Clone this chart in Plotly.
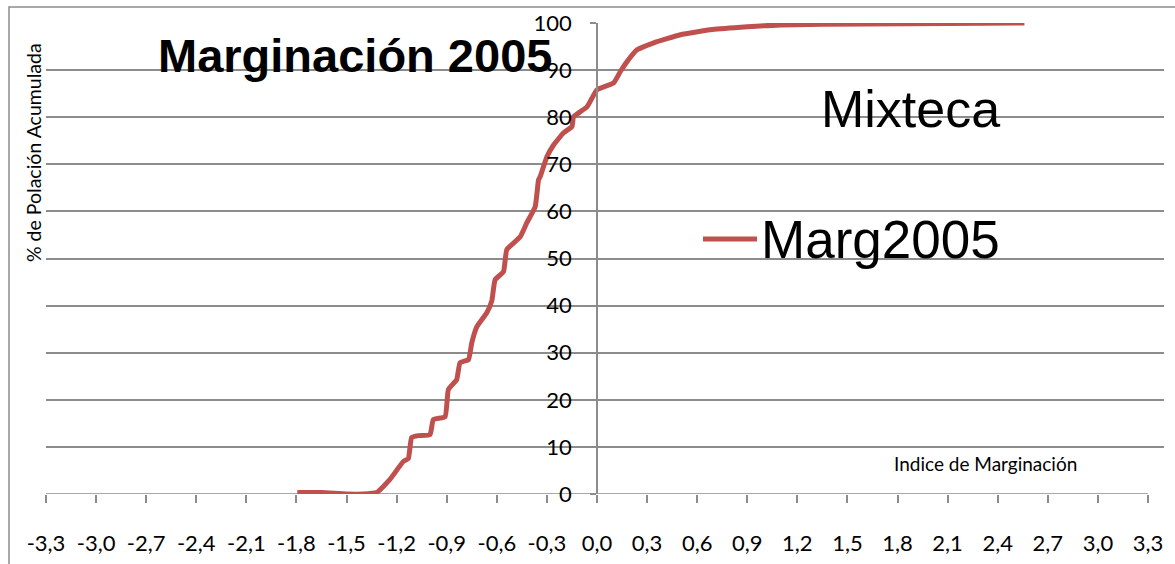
import plotly.graph_objects as go

# ---- data ----
indice = [-1.795, -1.65, -1.50, -1.40, -1.32, -1.24, -1.16, -1.13, -1.11, -1.07, -1.00, -0.98, -0.91,
          -0.89, -0.84, -0.82, -0.77, -0.75, -0.72, -0.66, -0.63, -0.61, -0.56, -0.54, -0.46, -0.42,
          -0.37, -0.35, -0.34, -0.30, -0.26, -0.20, -0.15, -0.14, -0.06, 0.00, 0.10, 0.14, 0.18,
          0.24, 0.34, 0.50, 0.69, 0.90, 1.10, 1.60, 2.10, 2.56]
pob_acum = [0.3, 0.3, 0.0, 0.0, 0.3, 3.1, 6.9, 7.5, 12.0, 12.4, 12.6, 15.8, 16.4,
            22.2, 24.3, 27.9, 28.5, 32.1, 35.5, 38.5, 41.0, 45.5, 47.2, 51.9, 54.6, 57.6,
            61.0, 66.7, 67.4, 71.6, 74.1, 76.7, 78.0, 80.1, 82.2, 85.8, 87.3, 89.7, 91.8,
            94.3, 95.8, 97.5, 98.6, 99.2, 99.6, 99.8, 99.9, 100.0]

x_tickvals = [-3.3, -3.0, -2.7, -2.4, -2.1, -1.8, -1.5, -1.2, -0.9, -0.6, -0.3, 0.0,
              0.3, 0.6, 0.9, 1.2, 1.5, 1.8, 2.1, 2.4, 2.7, 3.0, 3.3]
x_ticktext = ["-3,3", "-3,0", "-2,7", "-2,4", "-2,1", "-1,8", "-1,5", "-1,2", "-0,9", "-0,6", "-0,3", "0,0",
              "0,3", "0,6", "0,9", "1,2", "1,5", "1,8", "2,1", "2,4", "2,7", "3,0", "3,3"]
y_tickvals = [0, 10, 20, 30, 40, 50, 60, 70, 80, 90, 100]

series_name = "Marg2005"
RED = "#C0504D"
GRID = "#8c8c8c"

XMIN, XMAX = -3.3, 3.396
YMIN, YMAX = 0, 100

fig = go.Figure()
fig.add_trace(go.Scatter(x=indice, y=pob_acum, mode="lines", name=series_name,
                         line=dict(color=RED, width=5, shape="spline", smoothing=0.4),
                         showlegend=False))

W, H = 1175, 564
L, R, T, B = 46, 11, 23, 70
pw, ph = W - L - R, H - T - B


def px(xp):
    return (xp - L) / pw


def py(yp):
    return (H - B - yp) / ph


fig.update_layout(
    width=W, height=H,
    margin=dict(l=L, r=R, t=T, b=B, autoexpand=False),
    paper_bgcolor="white", plot_bgcolor="white",
    font=dict(family="Lato", color="black"),
    xaxis=dict(range=[XMIN, XMAX], tickvals=x_tickvals, ticktext=x_ticktext,
               showgrid=False, zeroline=False, showline=False, automargin=False,
               ticks="outside", ticklen=8, tickcolor=GRID, tickwidth=1.5,
               ticklabelstandoff=22, tickfont=dict(size=22, family="Lato")),
    yaxis=dict(range=[YMIN, YMAX], tickvals=y_tickvals, automargin=False,
               showgrid=True, gridcolor=GRID, gridwidth=1.5,
               zeroline=False, showline=True, linecolor=GRID, linewidth=1.5,
               anchor="free", position=(0 - XMIN) / (XMAX - XMIN),
               ticks="outside", ticklen=6, tickcolor=GRID, tickwidth=1.5,
               ticklabelstandoff=14, tickfont=dict(size=22, family="Lato")),
)

# x-axis line from -3.3 to 3.3
fig.add_shape(type="line", xref="x", yref="y", x0=x_tickvals[0], x1=x_tickvals[-1], y0=0, y1=0,
              line=dict(color=GRID, width=1.5), layer="below")
# chart border
fig.add_shape(type="rect", xref="paper", yref="paper", x0=px(9), x1=px(1185), y0=py(580), y1=py(7),
              line=dict(color=GRID, width=1.5), fillcolor="rgba(0,0,0,0)")

# legend (manual)
fig.add_shape(type="line", xref="paper", yref="paper", x0=px(703), x1=px(757), y0=py(239), y1=py(239),
              line=dict(color=RED, width=5))
fig.add_annotation(xref="paper", yref="paper", x=px(759), y=py(239), xanchor="left", yanchor="middle",
                   text=series_name, showarrow=False,
                   font=dict(family="Liberation Sans", size=53, color="black"))

fig.add_annotation(xref="paper", yref="paper", x=px(355), y=py(56), xanchor="center", yanchor="middle",
                   text="<b>Marginación 2005</b>", showarrow=False,
                   font=dict(family="Liberation Sans", size=47, color="black"))
fig.add_annotation(xref="paper", yref="paper", x=px(910), y=py(109), xanchor="center", yanchor="middle",
                   text="Mixteca", showarrow=False,
                   font=dict(family="Liberation Sans", size=52, color="black"))
fig.add_annotation(xref="paper", yref="paper", x=px(985), y=py(463), xanchor="center", yanchor="middle",
                   text="Indice de Marginación", showarrow=False,
                   font=dict(family="Lato", size=19, color="black"))
fig.add_annotation(xref="paper", yref="paper", x=px(33), y=py(153), xanchor="center", yanchor="middle",
                   text="% de Polación Acumulada", showarrow=False, textangle=-90,
                   font=dict(family="Lato", size=19.5, color="black"))

fig.write_html("out.html", config={"displayModeBar": False},
               post_script="document.body.style.margin='0';")
